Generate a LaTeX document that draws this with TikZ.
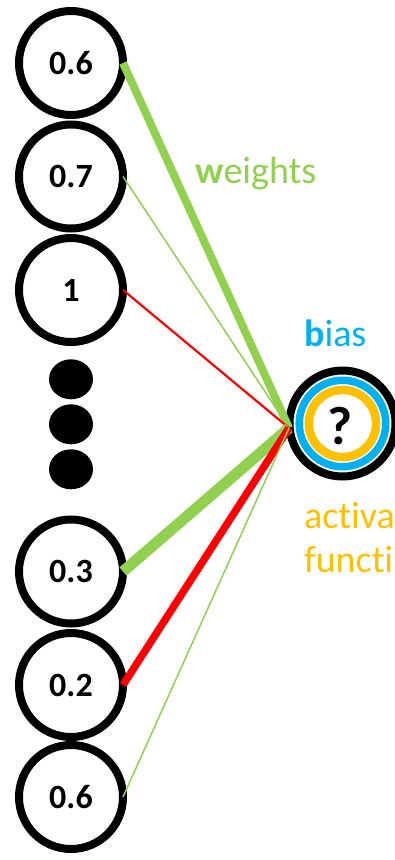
\documentclass[tikz,border=0pt]{standalone}
\usepackage{fontspec}
\setmainfont{Carlito}[Ligatures=NoCommon]
\usetikzlibrary{shapes.geometric}
\definecolor{wgreen}{HTML}{92D050}
\definecolor{wred}{HTML}{FF0000}
\definecolor{bblue}{HTML}{00B0F0}
\definecolor{ayellow}{HTML}{FFC000}
\begin{document}
\begin{tikzpicture}[x=1pt,y=-1pt,
  neuron/.style={circle, draw=black, line width=8pt, minimum size=104pt,
    inner sep=0pt, outer sep=0pt, fill=white,
    font=\fontsize{34}{40}\selectfont\bfseries},
  ring/.style={circle, line width=#1, inner sep=0pt, outer sep=0pt},
  dotnode/.style={ellipse, fill=black, minimum width=44pt, minimum height=40pt, inner sep=0pt},
  lbl/.style={anchor=base west, inner sep=0pt, font=\fontsize{38}{44}\selectfont},
  wire/.style={line width=#1, line cap=butt}]
\useasboundingbox (0,0) rectangle (395,860);

% input neurons
\node[neuron] (i1) at (71,63)    {0.6};
\node[neuron] (i2) at (71,176.5) {0.7};
\node[neuron] (i3) at (71,290)   {1};
\node[neuron] (i4) at (71,571.5) {0.3};
\node[neuron] (i5) at (71,685)   {0.2};
\node[neuron] (i6) at (71,797)   {0.6};

% ellipsis dots
\node[dotnode] (d1) at (71,379.3) {};
\node[dotnode] (d2) at (71,424.3) {};
\node[dotnode] (d3) at (71,469.3) {};

% output neuron: black border, bias ring, activation ring
\node[ring=8pt, draw=black, fill=white, minimum size=106pt] (out) at (342.5,423.5) {};
\node[ring=7.5pt, draw=bblue, minimum size=86.5pt] (biasring) at (out.center) {};
\node[ring=8.5pt, draw=ayellow, minimum size=67.2pt] (actring) at (out.center) {};
\node[inner sep=0pt, font=\fontsize{54}{60}\selectfont\bfseries] (q) at (340,426) {?};

% weighted connections
\coordinate (hub) at (289,428);
\draw[wire=8pt, wgreen]  (i1.east) -- (hub);
\draw[wire=1.5pt, wgreen] (i2.east) -- (hub);
\draw[wire=2.2pt, wred]  (i3.east) -- (hub);
\draw[wire=11pt, wgreen] (i4.east) -- (hub);
\draw[wire=7.5pt, wred]  (i5.east) -- (hub);
\draw[wire=1.5pt, wgreen] (i6.east) -- (hub);

% labels
\node[lbl, text=wgreen] (tw) at (195,183) {{\bfseries w}eights};
\node[lbl, text=bblue] (tb) at (304,346.5) {{\bfseries b}ias};
\node[lbl, text=ayellow] (ta1) at (304,528) {activa};
\node[lbl, text=ayellow] (ta2) at (304,572) {functi};
\end{tikzpicture}
\end{document}
